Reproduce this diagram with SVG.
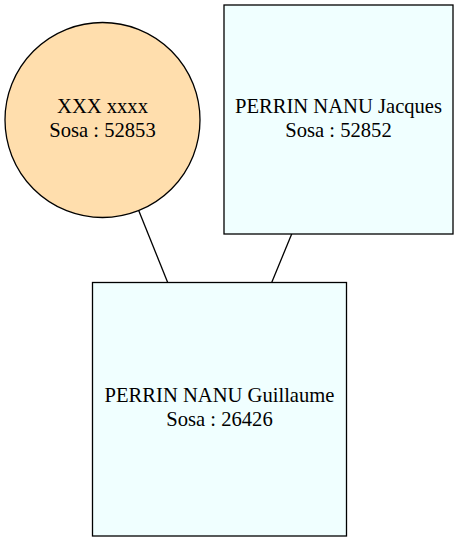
<svg xmlns="http://www.w3.org/2000/svg" width="458" height="543" viewBox="0 0 458 543">
<style>
.node{stroke:#000;stroke-width:1.3}
.person{fill:#f0ffff}
.unknown{fill:#ffdead}
text{font-family:"Liberation Serif","Times New Roman",serif;font-size:20.6px;fill:#000;text-anchor:middle}
.edge{stroke:#000;stroke-width:1.3;fill:none}
</style>
<rect width="458" height="543" fill="#fff"/>
<g id="edges">
<line class="edge" x1="138.5" y1="210" x2="167.7" y2="282.5"/>
<line class="edge" x1="291.7" y1="234" x2="271.7" y2="282.5"/>
</g>
<g id="n52853">
<circle class="node unknown" cx="102.5" cy="120" r="97.5"/>
<text x="102.5" y="113">XXX xxxx</text>
<text x="102.5" y="137">Sosa : 52853</text>
</g>
<g id="n52852">
<rect class="node person" x="224" y="5" width="229" height="229"/>
<text x="338.5" y="113">PERRIN NANU Jacques</text>
<text x="338.5" y="137">Sosa : 52852</text>
</g>
<g id="n26426">
<rect class="node person" x="92.5" y="282.5" width="254" height="253.5"/>
<text x="219.5" y="402">PERRIN NANU Guillaume</text>
<text x="219.5" y="426">Sosa : 26426</text>
</g>
</svg>
